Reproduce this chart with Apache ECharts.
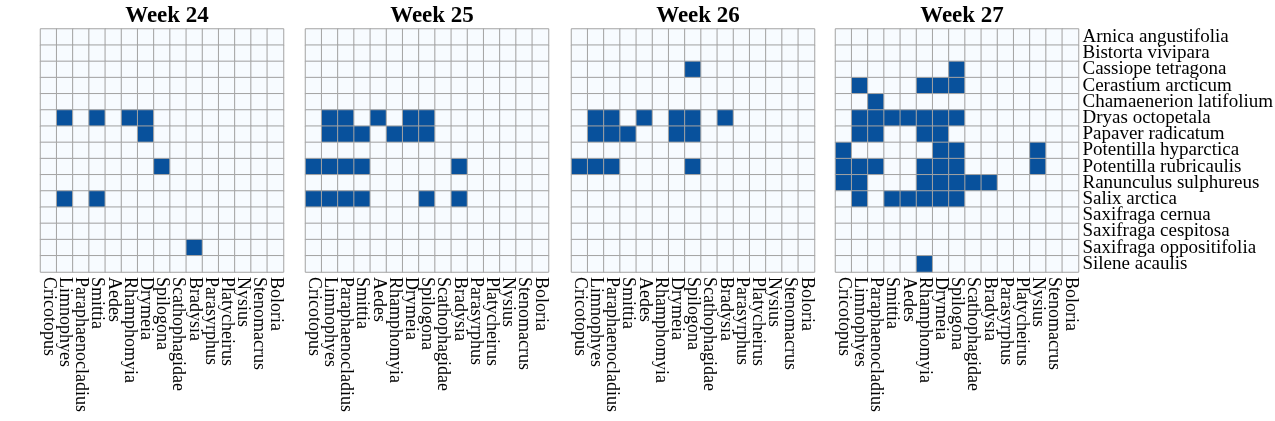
<!DOCTYPE html>
<html>
<head>
<meta charset="utf-8">
<script src="https://cdn.jsdelivr.net/npm/echarts@6/dist/echarts.min.js"></script>
<style>html,body{margin:0;padding:0;background:#fff;}#c{width:1275px;height:421px;}</style>
</head>
<body>
<div id="c"></div>
<script>
const insects = ["Cricotopus","Limnophyes","Paraphaenocladius","Smittia","Aedes","Rhamphomyia","Drymeia","Spilogona","Scathophagidae","Bradysia","Parasyrphus","Platycheirus","Nysius","Stenomacrus","Boloria"];
const plants = ["Arnica angustifolia","Bistorta vivipara","Cassiope tetragona","Cerastium arcticum","Chamaenerion latifolium","Dryas octopetala","Papaver radicatum","Potentilla hyparctica","Potentilla rubricaulis","Ranunculus sulphureus","Salix arctica","Saxifraga cernua","Saxifraga cespitosa","Saxifraga oppositifolia","Silene acaulis"];
const weeks = ["Week 24","Week 25","Week 26","Week 27"];

// rows = plants (top to bottom), columns = insects (left to right); 1 = interaction observed
const week24 = [
  [0,0,0,0,0,0,0,0,0,0,0,0,0,0,0],
  [0,0,0,0,0,0,0,0,0,0,0,0,0,0,0],
  [0,0,0,0,0,0,0,0,0,0,0,0,0,0,0],
  [0,0,0,0,0,0,0,0,0,0,0,0,0,0,0],
  [0,0,0,0,0,0,0,0,0,0,0,0,0,0,0],
  [0,1,0,1,0,1,1,0,0,0,0,0,0,0,0],
  [0,0,0,0,0,0,1,0,0,0,0,0,0,0,0],
  [0,0,0,0,0,0,0,0,0,0,0,0,0,0,0],
  [0,0,0,0,0,0,0,1,0,0,0,0,0,0,0],
  [0,0,0,0,0,0,0,0,0,0,0,0,0,0,0],
  [0,1,0,1,0,0,0,0,0,0,0,0,0,0,0],
  [0,0,0,0,0,0,0,0,0,0,0,0,0,0,0],
  [0,0,0,0,0,0,0,0,0,0,0,0,0,0,0],
  [0,0,0,0,0,0,0,0,0,1,0,0,0,0,0],
  [0,0,0,0,0,0,0,0,0,0,0,0,0,0,0]
];
const week25 = [
  [0,0,0,0,0,0,0,0,0,0,0,0,0,0,0],
  [0,0,0,0,0,0,0,0,0,0,0,0,0,0,0],
  [0,0,0,0,0,0,0,0,0,0,0,0,0,0,0],
  [0,0,0,0,0,0,0,0,0,0,0,0,0,0,0],
  [0,0,0,0,0,0,0,0,0,0,0,0,0,0,0],
  [0,1,1,0,1,0,1,1,0,0,0,0,0,0,0],
  [0,1,1,1,0,1,1,1,0,0,0,0,0,0,0],
  [0,0,0,0,0,0,0,0,0,0,0,0,0,0,0],
  [1,1,1,1,0,0,0,0,0,1,0,0,0,0,0],
  [0,0,0,0,0,0,0,0,0,0,0,0,0,0,0],
  [1,1,1,1,0,0,0,1,0,1,0,0,0,0,0],
  [0,0,0,0,0,0,0,0,0,0,0,0,0,0,0],
  [0,0,0,0,0,0,0,0,0,0,0,0,0,0,0],
  [0,0,0,0,0,0,0,0,0,0,0,0,0,0,0],
  [0,0,0,0,0,0,0,0,0,0,0,0,0,0,0]
];
const week26 = [
  [0,0,0,0,0,0,0,0,0,0,0,0,0,0,0],
  [0,0,0,0,0,0,0,0,0,0,0,0,0,0,0],
  [0,0,0,0,0,0,0,1,0,0,0,0,0,0,0],
  [0,0,0,0,0,0,0,0,0,0,0,0,0,0,0],
  [0,0,0,0,0,0,0,0,0,0,0,0,0,0,0],
  [0,1,1,0,1,0,1,1,0,1,0,0,0,0,0],
  [0,1,1,1,0,0,1,1,0,0,0,0,0,0,0],
  [0,0,0,0,0,0,0,0,0,0,0,0,0,0,0],
  [1,1,1,0,0,0,0,1,0,0,0,0,0,0,0],
  [0,0,0,0,0,0,0,0,0,0,0,0,0,0,0],
  [0,0,0,0,0,0,0,0,0,0,0,0,0,0,0],
  [0,0,0,0,0,0,0,0,0,0,0,0,0,0,0],
  [0,0,0,0,0,0,0,0,0,0,0,0,0,0,0],
  [0,0,0,0,0,0,0,0,0,0,0,0,0,0,0],
  [0,0,0,0,0,0,0,0,0,0,0,0,0,0,0]
];
const week27 = [
  [0,0,0,0,0,0,0,0,0,0,0,0,0,0,0],
  [0,0,0,0,0,0,0,0,0,0,0,0,0,0,0],
  [0,0,0,0,0,0,0,1,0,0,0,0,0,0,0],
  [0,1,0,0,0,1,1,1,0,0,0,0,0,0,0],
  [0,0,1,0,0,0,0,0,0,0,0,0,0,0,0],
  [0,1,1,1,1,1,1,1,0,0,0,0,0,0,0],
  [0,1,1,0,0,1,1,0,0,0,0,0,0,0,0],
  [1,0,0,0,0,0,1,1,0,0,0,0,1,0,0],
  [1,1,1,0,0,1,1,1,0,0,0,0,1,0,0],
  [1,1,0,0,0,1,1,1,1,1,0,0,0,0,0],
  [0,1,0,1,1,1,1,1,0,0,0,0,0,0,0],
  [0,0,0,0,0,0,0,0,0,0,0,0,0,0,0],
  [0,0,0,0,0,0,0,0,0,0,0,0,0,0,0],
  [0,0,0,0,0,0,0,0,0,0,0,0,0,0,0],
  [0,0,0,0,0,1,0,0,0,0,0,0,0,0,0]
];
const matrices = [week24, week25, week26, week27];

const FONT = "Liberation Serif";
const lefts = [40.5, 305.5, 571.5, 835.5];
const W = 243, TOP = 29, H = 243;

const chart = echarts.init(document.getElementById('c'), null, {renderer: 'canvas'});
const option = {
  backgroundColor: '#ffffff',
  animation: false,
  title: weeks.map((w, i) => ({
    text: w,
    left: lefts[i] + W / 2,
    top: 0,
    textAlign: 'center',
    textStyle: {fontFamily: FONT, fontWeight: 'bold', fontSize: 23, color: '#000'}
  })),
  visualMap: {
    type: 'piecewise', show: false, dimension: 2, seriesIndex: [0,1,2,3],
    pieces: [{value: 0, color: '#f7fbff'}, {value: 1, color: '#08519c'}]
  },
  grid: lefts.map(l => ({left: l, top: TOP, width: W, height: H, containLabel: false, outerBoundsMode: 'none'})),
  xAxis: lefts.map((l, i) => ({
    type: 'category', gridIndex: i, data: insects, position: 'bottom',
    axisLine: {show: false}, axisTick: {show: false}, splitLine: {show: false},
    axisLabel: {rotate: -90, interval: 0, margin: 5, fontFamily: FONT, fontSize: 18, color: '#000'}
  })),
  yAxis: lefts.map((l, i) => ({
    type: 'category', gridIndex: i, data: plants, inverse: true, position: 'right',
    axisLine: {show: false}, axisTick: {show: false}, splitLine: {show: false},
    axisLabel: {show: i === 3, interval: 0, margin: 4, align: 'left', fontFamily: FONT, fontSize: 19, color: '#000'}
  })),
  series: matrices.map((m, i) => {
    const data = [];
    m.forEach((row, r) => row.forEach((v, c) => data.push([c, r, v])));
    return {
      type: 'heatmap', xAxisIndex: i, yAxisIndex: i, data: data,
      itemStyle: {borderColor: '#a3a3a3', borderWidth: 1},
      emphasis: {disabled: true}, label: {show: false}
    };
  })
};
chart.setOption(option);
</script>
</body>
</html>
